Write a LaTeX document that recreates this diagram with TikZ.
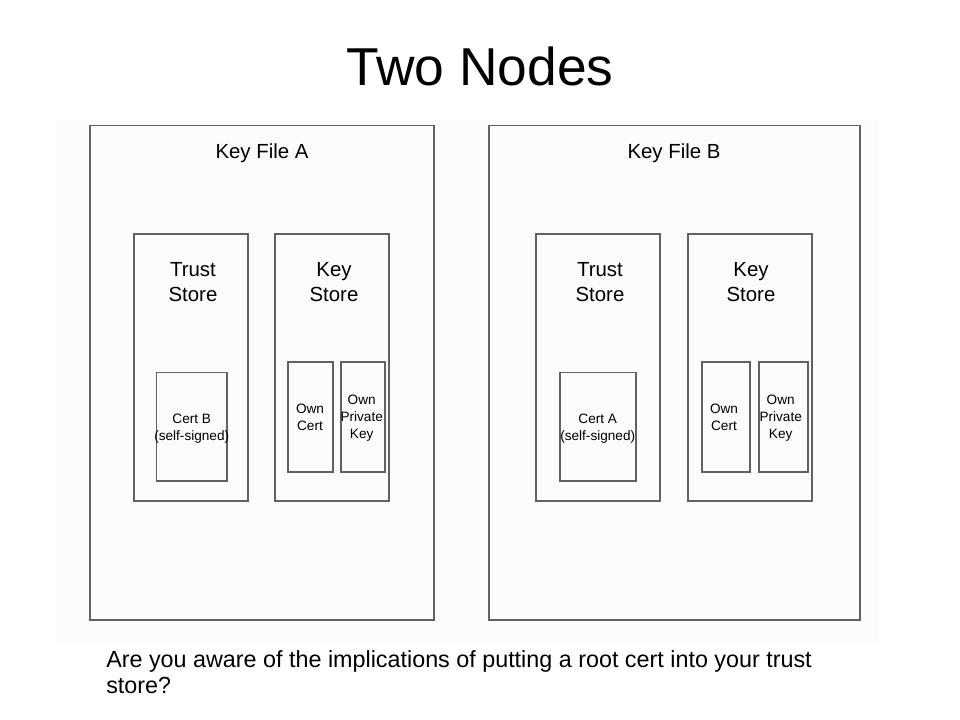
\documentclass[tikz,border=0pt]{standalone}
\usepackage{fontspec}
\setmainfont{Liberation Sans}
\usepackage{tikz}
\usetikzlibrary{positioning}

\begin{document}
\begin{tikzpicture}[
  x=0.75pt, y=-0.75pt,
  box/.style={draw=black!62, line width=0.9pt, inner sep=0pt},
  label/.style={font=\fontsize{15.3}{18.2}\selectfont, align=center, anchor=base, inner sep=0pt},
  small/.style={font=\fontsize{10.2}{12.5}\selectfont, align=center, anchor=base, inner sep=0pt},
  title/.style={font=\fontsize{40}{46}\selectfont, anchor=base, inner sep=0pt},
  note/.style={font=\fontsize{17.5}{19.5}\selectfont, align=left, anchor=base west, inner sep=0pt}
]
\useasboundingbox (0,0) rectangle (960,720);
\fill[black!1.5] (56,120) rectangle (879,643);

\node[title] (heading) at (480,86) {Two Nodes};

\node[box, minimum width=258pt, minimum height=370.9pt] (fileA) at (262,372.75) {};
\node[box, minimum width=278.25pt, minimum height=370.9pt] (fileB) at (674.5,372.75) {};

\node[box, minimum width=85.5pt, minimum height=200.25pt] (trustA) at (191,367.5) {};
\node[box, minimum width=85.5pt, minimum height=200.25pt] (keysA) at (332,367.5) {};
\node[box, minimum width=93pt, minimum height=200.25pt] (trustB) at (598,367.5) {};
\node[box, minimum width=93pt, minimum height=200.25pt] (keysB) at (750,367.5) {};

\node[box, minimum width=52.9pt, minimum height=81.2pt] (certB) at (191.75,426.85) {};
\node[box, minimum width=57pt, minimum height=81.2pt] (certA) at (598,426.85) {};
\node[box, minimum width=33.75pt, minimum height=82.5pt] (owncertA) at (310.5,417) {};
\node[box, minimum width=33pt, minimum height=82.5pt] (ownkeyA) at (363,417) {};
\node[box, minimum width=36pt, minimum height=82.5pt] (owncertB) at (726,417) {};
\node[box, minimum width=36.75pt, minimum height=82.5pt] (ownkeyB) at (783.5,417) {};

\node[label] (fileAtext) at (262,159) {Key File A};
\node[label] (fileBtext) at (674,159) {Key File B};
\node[label] (trustAtext) at (193,301) {Trust\\Store};
\node[label] (keysAtext) at (334,301) {Key\\Store};
\node[label] (trustBtext) at (600,301) {Trust\\Store};
\node[label] (keysBtext) at (751,301) {Key\\Store};

\node[small] (certBtext) at (191.7,440) {Cert B\\(self-signed)};
\node[small] (certAtext) at (597.7,440) {Cert A\\(self-signed)};
\node[small] (owncertAtext) at (310,430) {Own\\Cert};
\node[small] (ownkeyAtext) at (361.7,438) {Own\\Private\\Key};
\node[small] (owncertBtext) at (724,430) {Own\\Cert};
\node[small] (ownkeyBtext) at (780.7,438) {Own\\Private\\Key};

\node[note] (question) at (106,693) {Are you aware of the implications of putting a root cert into your trust\\store?};
\end{tikzpicture}
\end{document}
